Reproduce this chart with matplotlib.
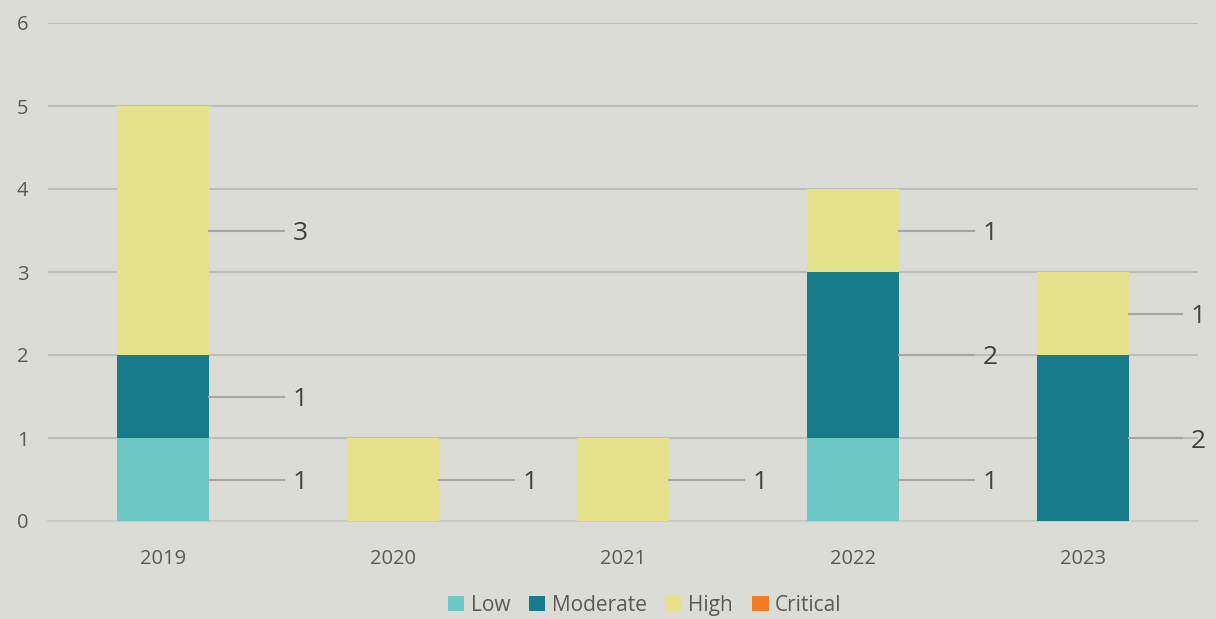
import matplotlib.pyplot as plt
import numpy as np

plt.rcParams['font.family'] = ['Open Sans', 'DejaVu Sans']

years = ['2019', '2020', '2021', '2022', '2023']
series = ['Low', 'Moderate', 'High', 'Critical']
low = [1, 0, 0, 1, 0]
moderate = [1, 0, 0, 2, 2]
high = [3, 1, 1, 1, 1]
critical = [0, 0, 0, 0, 0]
colores = ['#6CC8C4', '#187B8A', '#E4E38C', '#F47B26']

bg = '#DCDCD6'
txt = '#595959'

fig = plt.figure(figsize=(12.16, 6.19), dpi=100, facecolor=bg)
ax = fig.add_axes([48/1216, 98/619, 1150/1216, 498/619], facecolor=bg)

x = np.arange(len(years))
ancho = 0.4
base = np.zeros(len(years))
for nombre, vals, c in zip(series, [low, moderate, high, critical], colores):
    vals = np.array(vals, dtype=float)
    ax.bar(x, vals, ancho, bottom=base, color=c, label=nombre, zorder=3)
    for i, v in enumerate(vals):
        if v > 0:
            yc = base[i] + v / 2
            borde = x[i] + ancho / 2
            # la etiqueta no se sale del area del grafico
            xt = min(borde + 0.395, 4.5)
            ax.plot([borde, xt - 0.07], [yc, yc], color='#A5A5A2', lw=1.5,
                    zorder=4, clip_on=False)
            ax.text(xt, yc, '%d' % v, ha='center', va='center_baseline',
                    fontsize=19, color='#404040', clip_on=False)
    base = base + vals

ax.set_xlim(-0.5, 4.5)
ax.set_ylim(0, 6)
ax.set_yticks(range(7))
ax.yaxis.grid(True, color='#BDBDB9', lw=1.5, zorder=0)
ax.set_axisbelow(True)
ax.set_xticks(x)
ax.set_xticklabels(years)
ax.tick_params(axis='both', length=0, labelsize=14.5, colors=txt)
ax.tick_params(axis='x', pad=20)
ax.tick_params(axis='y', pad=14)
for s in ['top', 'right', 'left']:
    ax.spines[s].set_visible(False)
ax.spines['bottom'].set_color('#C8C8C4')
ax.spines['bottom'].set_linewidth(1.2)

ley = fig.legend(loc='lower center', ncol=4, frameon=False, fontsize=15,
                 bbox_to_anchor=(0.53, -0.025), handlelength=0.8, handleheight=0.8,
                 handletextpad=0.3, columnspacing=0.9, labelcolor=txt)

fig.savefig('out.png', dpi=100, facecolor=bg)
